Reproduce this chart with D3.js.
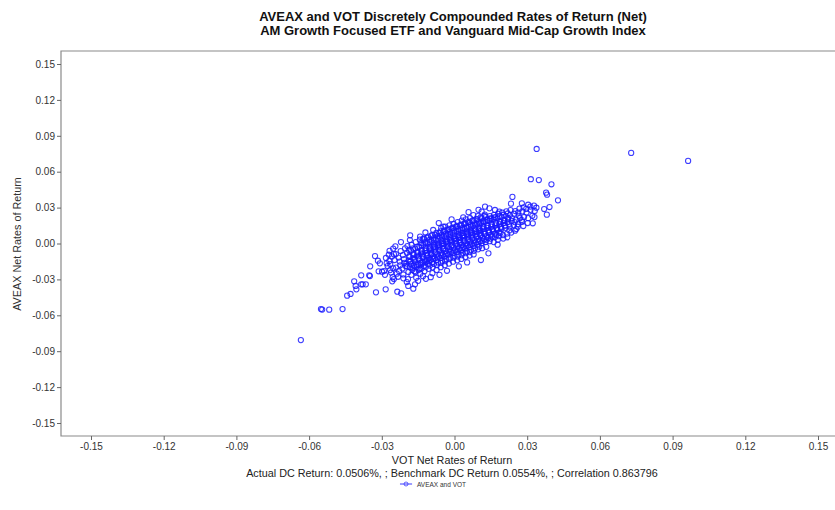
<!DOCTYPE html>
<html>
<head>
<meta charset="utf-8">
<script src="https://cdn.jsdelivr.net/npm/d3@7"></script>
<style>
  html, body { margin: 0; padding: 0; background: #ffffff; }
  svg { display: block; font-family: "Liberation Sans", Arial, Helvetica, sans-serif; }
</style>
</head>
<body>
<svg id="chart" width="835" height="510"></svg>
<script>
// ---------------- data ----------------
const titleLines = [
  "AVEAX and VOT Discretely Compounded Rates of Return (Net)",
  "AM Growth Focused ETF and Vanguard Mid-Cap Growth Index"
];
const xAxisTitle = "VOT Net Rates of Return";
const yAxisTitle = "AVEAX Net Rates of Return";
const subTitle = "Actual DC Return: 0.0506%, ; Benchmark DC Return 0.0554%, ; Correlation 0.863796";
const legendLabel = "AVEAX and VOT";
const xTicks = [-0.15, -0.12, -0.09, -0.06, -0.03, 0.00, 0.03, 0.06, 0.09, 0.12, 0.15];
const yTicks = [-0.15, -0.12, -0.09, -0.06, -0.03, 0.00, 0.03, 0.06, 0.09, 0.12, 0.15];

// [VOT return, AVEAX return] — outlying points
const outerPoints = [
  [-0.0634,-0.0807],
  [-0.0551,-0.0548],[-0.0546,-0.0552],[-0.0517,-0.0553],[-0.0462,-0.0548],
  [-0.0443,-0.0436],[-0.0429,-0.0422],
  [-0.0408,-0.0355],[-0.0405,-0.0383],[-0.0414,-0.0316],
  [-0.0385,-0.0341],[-0.0379,-0.0341],[-0.0366,-0.0341],
  [-0.0385,-0.0266],[-0.0349,-0.0272],[-0.0352,-0.0266],
  [-0.0348,-0.0191],[-0.0328,-0.0105],
  [-0.0324,-0.0408],[-0.0284,-0.0383],
  [-0.0236,-0.0403],[-0.0220,-0.0416],[-0.0170,-0.0378],[-0.0163,-0.0341],
  [-0.0316,-0.0144],[-0.0308,-0.0166],[-0.0313,-0.0232],[-0.0299,-0.0236],
  [-0.0253,-0.0043],[-0.0242,-0.0088],[-0.0269,-0.0146],[-0.0280,-0.0166],
  [-0.0291,-0.0230],[-0.0266,-0.0222],[-0.0253,-0.0207],
  [-0.0257,-0.0316],[-0.0250,-0.0297],[-0.0211,-0.0291],[-0.0197,-0.0322],[-0.0191,-0.0355],
  [0.0339,0.0790],[0.0315,0.0537],[0.0348,0.0530],[0.0400,0.0495],
  [0.0378,0.0425],[0.0382,0.0408],[0.0427,0.0361],[0.0239,0.0389],[0.0233,0.0333],
  [0.0278,0.0336],[0.0304,0.0324],[0.0328,0.0316],
  [0.0370,0.0288],[0.0392,0.0305],[0.0381,0.0241],[0.0323,0.0169],
  [0.0178,-0.0010],[0.0140,-0.0082],[0.0109,-0.0138],
  [0.0278,0.0196],[0.0261,0.0140],[0.0284,0.0146],[0.0250,0.0107],
  [0.0144,0.0294],[0.0167,0.0280],[0.0185,0.0266],
  [0.0126,0.0308],[0.0112,0.0266],[0.0078,0.0238],[0.0036,0.0219],
  [-0.0046,0.0140],[-0.0088,0.0113],[-0.0142,0.0057],[-0.0184,0.0029],
  [-0.0150,-0.0312],[-0.0118,-0.0295],[-0.0098,-0.0281],[-0.0062,-0.0262],
  [-0.0031,-0.0228],[0.0018,-0.0191],[0.0052,-0.0158],
  [-0.0221,0.0012],[-0.0183,0.0068],[-0.0120,0.0092],[-0.0065,0.0171],
  [-0.0012,0.0201],[0.0058,0.0262],[0.0099,0.0281],
  [0.0729,0.0757],[0.0964,0.0690]
];

// [VOT return, AVEAX return] — central band
const corePoints = [
  [-0.0283,-0.0121],[-0.0276,-0.0189],[-0.0287,-0.0262],[-0.0271,-0.0094],
  [-0.0265,-0.0172],[-0.0258,-0.0108],[-0.0262,-0.0243],[-0.0255,-0.0281],[-0.0268,-0.0061],
  [-0.0247,-0.0138],[-0.0241,-0.0201],[-0.0250,-0.0089],[-0.0238,-0.0252],[-0.0244,-0.0023],
  [-0.0231,-0.0118],[-0.0224,-0.0182],[-0.0229,-0.0229],[-0.0222,-0.0063],[-0.0233,-0.0278],[-0.0226,-0.0151],
  [-0.0213,-0.0097],[-0.0207,-0.0162],[-0.0215,-0.0208],[-0.0204,-0.0041],[-0.0211,-0.0259],[-0.0209,-0.0131],[-0.0202,-0.0188],
  [-0.0196,-0.0079],[-0.0189,-0.0143],[-0.0197,-0.0192],[-0.0190,-0.0238],[-0.0194,-0.0021],[-0.0187,-0.0112],[-0.0199,-0.0168],[-0.0192,-0.0298],
  [-0.0179,-0.0061],[-0.0172,-0.0122],[-0.0180,-0.0171],[-0.0174,-0.0219],[-0.0177,-0.0012],[-0.0170,-0.0093],[-0.0182,-0.0148],[-0.0173,-0.0202],[-0.0178,-0.0262],
  [-0.0162,-0.0042],[-0.0155,-0.0101],[-0.0163,-0.0152],[-0.0157,-0.0198],[-0.0160,0.0011],[-0.0153,-0.0072],[-0.0165,-0.0128],[-0.0156,-0.0181],[-0.0161,-0.0239],[-0.0158,-0.0287],
  [-0.0145,-0.0028],[-0.0138,-0.0082],[-0.0146,-0.0131],[-0.0140,-0.0179],[-0.0143,0.0032],[-0.0136,-0.0058],[-0.0148,-0.0107],[-0.0139,-0.0161],[-0.0144,-0.0209],[-0.0141,-0.0252],[-0.0137,0.0004],
  [-0.0128,-0.0011],[-0.0121,-0.0062],[-0.0129,-0.0112],[-0.0123,-0.0158],[-0.0126,0.0042],[-0.0119,-0.0038],[-0.0131,-0.0089],[-0.0122,-0.0139],[-0.0127,-0.0188],[-0.0124,-0.0231],[-0.0120,0.0013],[-0.0130,-0.0273],
  [-0.0111,0.0002],[-0.0104,-0.0048],[-0.0112,-0.0098],[-0.0106,-0.0149],[-0.0109,0.0058],[-0.0102,-0.0027],[-0.0114,-0.0078],[-0.0105,-0.0121],[-0.0110,-0.0169],[-0.0107,-0.0212],[-0.0103,0.0031],[-0.0113,-0.0134],
  [-0.0094,0.0018],[-0.0087,-0.0031],[-0.0095,-0.0081],[-0.0089,-0.0129],[-0.0092,0.0072],[-0.0085,-0.0008],[-0.0097,-0.0058],[-0.0088,-0.0108],[-0.0093,-0.0158],[-0.0090,-0.0199],[-0.0086,0.0043],[-0.0096,-0.0094],[-0.0091,-0.0248],
  [-0.0077,0.0031],[-0.0070,-0.0018],[-0.0078,-0.0068],[-0.0072,-0.0118],[-0.0075,0.0088],[-0.0068,0.0002],[-0.0080,-0.0049],[-0.0071,-0.0091],[-0.0076,-0.0139],[-0.0073,-0.0181],[-0.0069,0.0061],[-0.0079,-0.0033],[-0.0074,-0.0221],
  [-0.0060,0.0049],[-0.0053,-0.0002],[-0.0061,-0.0051],[-0.0055,-0.0098],[-0.0058,0.0101],[-0.0051,0.0021],[-0.0063,-0.0028],[-0.0054,-0.0079],[-0.0059,-0.0121],[-0.0056,-0.0162],[-0.0052,0.0072],[-0.0062,-0.0014],[-0.0057,-0.0198],[-0.0055,0.0129],
  [-0.0043,0.0061],[-0.0036,0.0011],[-0.0044,-0.0039],[-0.0038,-0.0088],[-0.0041,0.0109],[-0.0034,0.0032],[-0.0046,-0.0018],[-0.0037,-0.0062],[-0.0042,-0.0109],[-0.0039,-0.0148],[-0.0035,0.0082],[-0.0045,-0.0004],[-0.0040,-0.0181],[-0.0038,0.0141],
  [-0.0026,0.0078],[-0.0019,0.0028],[-0.0027,-0.0021],[-0.0021,-0.0069],[-0.0024,0.0122],[-0.0017,0.0049],[-0.0029,-0.0001],[-0.0020,-0.0048],[-0.0025,-0.0092],[-0.0022,-0.0131],[-0.0018,0.0098],[-0.0028,0.0014],[-0.0023,-0.0168],[-0.0021,0.0152],
  [-0.0009,0.0089],[-0.0002,0.0039],[-0.0010,-0.0011],[-0.0004,-0.0058],[-0.0007,0.0132],[0.0000,0.0061],[-0.0012,0.0012],[-0.0003,-0.0032],[-0.0008,-0.0081],[-0.0005,-0.0119],[-0.0001,0.0109],[-0.0011,0.0024],[-0.0006,-0.0152],[-0.0004,0.0163],
  [0.0008,0.0101],[0.0015,0.0052],[0.0007,0.0001],[0.0013,-0.0049],[0.0010,0.0148],[0.0017,0.0071],[0.0005,0.0021],[0.0014,-0.0022],[0.0009,-0.0071],[0.0012,-0.0109],[0.0016,0.0122],[0.0006,0.0036],[0.0011,-0.0141],[0.0013,0.0179],
  [0.0025,0.0112],[0.0032,0.0061],[0.0024,0.0011],[0.0030,-0.0039],[0.0027,0.0158],[0.0034,0.0088],[0.0022,0.0029],[0.0031,-0.0012],[0.0026,-0.0058],[0.0029,-0.0098],[0.0033,0.0131],[0.0023,0.0046],[0.0028,-0.0129],[0.0030,0.0191],
  [0.0042,0.0122],[0.0049,0.0079],[0.0041,0.0028],[0.0047,-0.0021],[0.0044,0.0171],[0.0051,0.0099],[0.0039,0.0049],[0.0048,0.0002],[0.0043,-0.0042],[0.0046,-0.0081],[0.0050,0.0141],[0.0040,0.0064],[0.0045,-0.0112],[0.0047,0.0201],
  [0.0059,0.0138],[0.0066,0.0088],[0.0058,0.0039],[0.0064,-0.0011],[0.0061,0.0181],[0.0068,0.0109],[0.0056,0.0059],[0.0065,0.0019],[0.0060,-0.0031],[0.0063,-0.0072],[0.0067,0.0158],[0.0057,0.0074],[0.0062,-0.0101],[0.0064,0.0212],
  [0.0076,0.0149],[0.0083,0.0101],[0.0075,0.0049],[0.0081,0.0001],[0.0078,0.0191],[0.0085,0.0121],[0.0073,0.0069],[0.0082,0.0029],[0.0077,-0.0019],[0.0080,-0.0061],[0.0084,0.0169],[0.0074,0.0085],[0.0079,-0.0091],
  [0.0093,0.0161],[0.0100,0.0109],[0.0092,0.0061],[0.0098,0.0011],[0.0095,0.0202],[0.0102,0.0131],[0.0090,0.0081],[0.0099,0.0039],[0.0094,-0.0011],[0.0097,-0.0049],[0.0101,0.0181],[0.0091,0.0094],[0.0096,0.0229],
  [0.0110,0.0172],[0.0117,0.0121],[0.0109,0.0071],[0.0115,0.0021],[0.0112,0.0211],[0.0119,0.0142],[0.0107,0.0091],[0.0116,0.0049],[0.0111,0.0002],[0.0114,-0.0039],[0.0118,0.0189],[0.0108,0.0106],
  [0.0127,0.0181],[0.0134,0.0131],[0.0126,0.0081],[0.0132,0.0031],[0.0129,0.0221],[0.0136,0.0151],[0.0124,0.0101],[0.0133,0.0059],[0.0128,0.0012],[0.0131,-0.0028],[0.0135,0.0199],[0.0125,0.0241],
  [0.0144,0.0191],[0.0151,0.0141],[0.0143,0.0092],[0.0149,0.0041],[0.0146,0.0229],[0.0153,0.0162],[0.0141,0.0111],[0.0150,0.0069],[0.0145,0.0019],[0.0148,0.0209],
  [0.0161,0.0201],[0.0168,0.0151],[0.0160,0.0101],[0.0166,0.0052],[0.0163,0.0239],[0.0170,0.0171],[0.0158,0.0121],[0.0167,0.0081],[0.0162,0.0012],[0.0165,0.0219],
  [0.0178,0.0211],[0.0185,0.0161],[0.0177,0.0112],[0.0183,0.0061],[0.0180,0.0249],[0.0187,0.0181],[0.0175,0.0131],[0.0184,0.0089],[0.0179,0.0031],
  [0.0195,0.0221],[0.0202,0.0171],[0.0194,0.0121],[0.0200,0.0071],[0.0197,0.0259],[0.0204,0.0191],[0.0192,0.0141],[0.0201,0.0041],
  [0.0212,0.0229],[0.0219,0.0179],[0.0211,0.0131],[0.0217,0.0082],[0.0214,0.0268],[0.0221,0.0201],[0.0209,0.0151],[0.0218,0.0052],
  [0.0229,0.0238],[0.0236,0.0189],[0.0228,0.0141],[0.0234,0.0091],[0.0231,0.0279],[0.0238,0.0211],[0.0226,0.0109],
  [0.0246,0.0249],[0.0253,0.0199],[0.0245,0.0151],[0.0251,0.0271],[0.0248,0.0179],[0.0255,0.0121],
  [0.0263,0.0259],[0.0270,0.0212],[0.0262,0.0161],[0.0268,0.0291],[0.0265,0.0231],
  [0.0280,0.0268],[0.0287,0.0221],[0.0279,0.0181],[0.0285,0.0302],
  [0.0297,0.0259],[0.0304,0.0212],[0.0296,0.0289],[0.0302,0.0171],
  [0.0314,0.0281],[0.0321,0.0231],[0.0313,0.0309],
  [0.0331,0.0272],[0.0338,0.0299],[0.0330,0.0221]
];

// [VOT return, AVEAX return] — densest centre of the band
const densePoints = [
  [-0.0186,-0.0103],[-0.0183,-0.0151],[-0.0188,-0.0054],[-0.0184,-0.0199],
  [-0.0169,-0.0088],[-0.0166,-0.0138],[-0.0171,-0.0041],[-0.0167,-0.0187],[-0.0165,-0.0231],
  [-0.0152,-0.0077],[-0.0149,-0.0124],[-0.0154,-0.0027],[-0.0150,-0.0175],[-0.0148,-0.0222],
  [-0.0135,-0.0064],[-0.0132,-0.0112],[-0.0137,-0.0014],[-0.0133,-0.0161],[-0.0131,0.0036],[-0.0136,-0.0209],
  [-0.0118,-0.0051],[-0.0115,-0.0099],[-0.0120,0.0001],[-0.0116,-0.0148],[-0.0114,0.0047],[-0.0119,-0.0197],
  [-0.0101,-0.0038],[-0.0098,-0.0086],[-0.0103,0.0012],[-0.0099,-0.0136],[-0.0097,0.0062],[-0.0102,-0.0184],
  [-0.0084,-0.0025],[-0.0081,-0.0073],[-0.0086,0.0027],[-0.0082,-0.0123],[-0.0080,0.0073],[-0.0085,-0.0171],
  [-0.0067,-0.0012],[-0.0064,-0.0060],[-0.0069,0.0038],[-0.0065,-0.0110],[-0.0063,0.0088],[-0.0068,-0.0158],
  [-0.0050,0.0003],[-0.0047,-0.0047],[-0.0052,0.0051],[-0.0048,-0.0097],[-0.0046,0.0101],[-0.0051,-0.0145],
  [-0.0033,0.0016],[-0.0030,-0.0034],[-0.0035,0.0064],[-0.0031,-0.0084],[-0.0029,0.0112],[-0.0034,-0.0132],
  [-0.0016,0.0029],[-0.0013,-0.0021],[-0.0018,0.0077],[-0.0014,-0.0071],[-0.0012,0.0127],[-0.0017,-0.0119],
  [0.0001,0.0043],[0.0004,-0.0007],[-0.0001,0.0091],[0.0003,-0.0057],[0.0005,0.0139],[0.0000,-0.0105],
  [0.0018,0.0056],[0.0021,0.0004],[0.0016,0.0104],[0.0020,-0.0044],[0.0022,0.0152],[0.0017,-0.0092],
  [0.0035,0.0069],[0.0038,0.0017],[0.0033,0.0117],[0.0037,-0.0031],[0.0039,0.0165],[0.0034,-0.0079],
  [0.0052,0.0082],[0.0055,0.0030],[0.0050,0.0130],[0.0054,-0.0018],[0.0056,0.0178],[0.0051,-0.0066],
  [0.0069,0.0095],[0.0072,0.0043],[0.0067,0.0143],[0.0071,-0.0005],[0.0073,0.0191],[0.0068,-0.0053],
  [0.0086,0.0108],[0.0089,0.0056],[0.0084,0.0156],[0.0088,0.0008],[0.0090,0.0204],[0.0085,-0.0040],
  [0.0103,0.0121],[0.0106,0.0069],[0.0101,0.0169],[0.0105,0.0021],[0.0107,0.0217],[0.0102,-0.0027],
  [0.0120,0.0134],[0.0123,0.0082],[0.0118,0.0182],[0.0122,0.0034],[0.0124,0.0230],
  [0.0137,0.0147],[0.0140,0.0095],[0.0135,0.0195],[0.0139,0.0047],
  [0.0154,0.0158],[0.0157,0.0110],[0.0152,0.0208],[0.0156,0.0058],
  [0.0171,0.0171],[0.0174,0.0121],[0.0169,0.0219],[0.0173,0.0071],
  [0.0188,0.0184],[0.0191,0.0134],[0.0186,0.0229],[0.0190,0.0089],
  [0.0205,0.0196],[0.0208,0.0149],[0.0203,0.0239],
  [0.0222,0.0211],[0.0225,0.0162],[0.0220,0.0251]
];

// ---------------- drawing ----------------
const svg = d3.select("#chart");
const W = 835, H = 510;
svg.append("rect").attr("width", W).attr("height", H).attr("fill", "#ffffff");

const frame = { left: 61, top: 51, bottom: 436, right: 840 };
const x = d3.scaleLinear().domain([-0.15, 0.15]).range([91, 818]);
const y = d3.scaleLinear().domain([-0.15, 0.15]).range([423, 64]);
const fmt = d => d.toFixed(2);

// titles
svg.append("g").selectAll("text").data(titleLines).join("text")
  .attr("x", 453).attr("y", (d, i) => 20.5 + i * 14.5)
  .attr("text-anchor", "middle")
  .attr("font-size", 13).attr("font-weight", "bold").attr("fill", "#111")
  .text(d => d);

// plot frame (right edge falls outside the image)
svg.append("path")
  .attr("d", `M${frame.right},${frame.top}H${frame.left}V${frame.bottom}H${frame.right}`)
  .attr("fill", "none").attr("stroke", "#8a8a8a").attr("stroke-width", 1.2);

// axes
const yAxis = svg.append("g").attr("transform", `translate(${frame.left},0)`)
  .call(d3.axisLeft(y).tickValues(yTicks).tickFormat(fmt).tickSize(4).tickPadding(2));
const xAxis = svg.append("g").attr("transform", `translate(0,${frame.bottom})`)
  .call(d3.axisBottom(x).tickValues(xTicks).tickFormat(fmt).tickSize(4).tickPadding(3));
[xAxis, yAxis].forEach(g => {
  g.select(".domain").remove();
  g.selectAll(".tick line").attr("stroke", "#666");
  g.selectAll(".tick text").attr("fill", "#333").attr("font-size", 10)
    .attr("font-family", "'Liberation Sans', Arial, sans-serif");
});

// axis titles
svg.append("text").attr("transform", "translate(21,244) rotate(-90)")
  .attr("text-anchor", "middle").attr("font-size", 10.8).attr("fill", "#333")
  .text(yAxisTitle);
svg.append("text").attr("x", 452).attr("y", 464)
  .attr("text-anchor", "middle").attr("font-size", 10.8).attr("fill", "#222")
  .text(xAxisTitle);
svg.append("text").attr("x", 452).attr("y", 477)
  .attr("text-anchor", "middle").attr("font-size", 10.8).attr("fill", "#222")
  .text(subTitle);

// legend
const lg = svg.append("g");
lg.append("line").attr("x1", x(-0.0225)).attr("x2", x(-0.0175)).attr("y1", 484).attr("y2", 484)
  .attr("stroke", "#3a3aff").attr("stroke-width", 1);
lg.append("circle").attr("cx", x(-0.02)).attr("cy", 484).attr("r", 2)
  .attr("fill", "none").attr("stroke", "#3a3aff").attr("stroke-width", 0.8);
lg.append("text").attr("x", 417).attr("y", 486.5).attr("font-size", 6.5).attr("fill", "#333")
  .text(legendLabel);

// points
const allPoints = outerPoints.concat(corePoints, densePoints);
svg.append("g").selectAll("circle").data(allPoints).join("circle")
  .attr("cx", d => x(d[0])).attr("cy", d => y(d[1])).attr("r", 2.6)
  .attr("fill", "none").attr("stroke", "#1a1aff").attr("stroke-opacity", 0.85)
  .attr("stroke-width", 1.05);
</script>
</body>
</html>
